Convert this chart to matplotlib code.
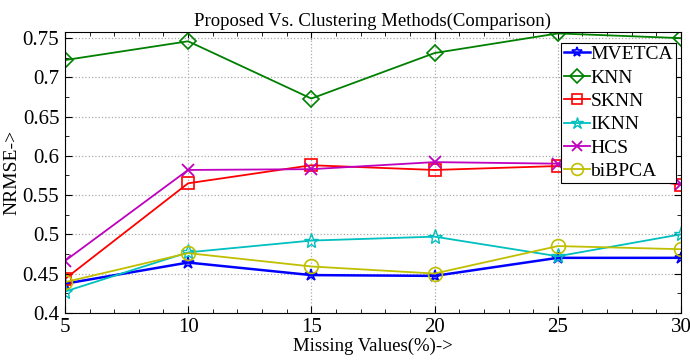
import numpy as np
import matplotlib.pyplot as plt
from matplotlib.ticker import MultipleLocator

plt.rcParams['font.family'] = ['Liberation Serif', 'DejaVu Serif']

missing = [5, 10, 15, 20, 25, 30]
mvetca = [0.437, 0.464, 0.448, 0.447, 0.470, 0.470]
knn = [0.722, 0.746, 0.673, 0.731, 0.756, 0.750]
sknn = [0.443, 0.565, 0.588, 0.582, 0.587, 0.563]
iknn = [0.427, 0.477, 0.492, 0.497, 0.472, 0.500]
hcs = [0.466, 0.582, 0.583, 0.592, 0.590, 0.564]
bibpca = [0.439, 0.476, 0.459, 0.450, 0.485, 0.481]

fig = plt.figure(figsize=(6.9, 3.62), dpi=100)
ax = fig.add_axes([0.094, 0.136, 0.893, 0.776])

ax.plot(missing, mvetca, color='#0000ff', marker='*', markersize=9, lw=1.8, label='MVETCA',
        markerfacecolor='none', markeredgewidth=1.2)
ax.plot(missing, knn, color='#008000', marker='D', markersize=8, lw=1.3, label='KNN',
        markerfacecolor='none', markeredgewidth=1.2)
ax.plot(missing, sknn, color='#ff0000', marker='s', markersize=9, lw=1.3, label='SKNN',
        markerfacecolor='none', markeredgewidth=1.2)
ax.plot(missing, iknn, color='#00bfbf', marker='*', markersize=11, lw=1.3, label='IKNN',
        markerfacecolor='none', markeredgewidth=1.0)
ax.plot(missing, hcs, color='#bf00bf', marker='x', markersize=8, lw=1.3, label='HCS',
        markeredgewidth=1.3)
ax.plot(missing, bibpca, color='#bfbf00', marker='o', markersize=10, lw=1.3, label='biBPCA',
        markerfacecolor='none', markeredgewidth=1.2)

ax.set_xlim(5, 30)
ax.set_ylim(0.4, 0.758)
ax.set_xticks(missing)
ax.set_yticks([0.4, 0.45, 0.5, 0.55, 0.6, 0.65, 0.7, 0.75])
ax.set_yticklabels(['0.4', '0.45', '0.5', '0.55', '0.6', '0.65', '0.7', '0.75'])
ax.xaxis.set_minor_locator(MultipleLocator(1))
ax.yaxis.set_minor_locator(MultipleLocator(0.025))
ax.tick_params(which='both', direction='in', top=True, right=True, labelsize=15, pad=4)
ax.tick_params(which='major', length=5)
ax.tick_params(which='minor', length=3)
ax.grid(True, which='major', linestyle=':', color='#aaaaaa', lw=0.9)

ax.set_title('Proposed Vs. Clustering Methods(Comparison)', fontsize=13.5, pad=4)
ax.set_xlabel('Missing Values(%)->', fontsize=13.5, labelpad=0)
ax.set_ylabel('NRMSE->', fontsize=14, labelpad=2)

leg = ax.legend(loc='upper right', bbox_to_anchor=(0.992, 0.962), fontsize=14,
                fancybox=False, framealpha=1, edgecolor='black', borderaxespad=0,
                handlelength=1.3, handletextpad=0.05, labelspacing=0.3,
                borderpad=0.15, markerscale=0.85)
leg.get_frame().set_linewidth(0.8)

fig.savefig('out.png', dpi=100)
